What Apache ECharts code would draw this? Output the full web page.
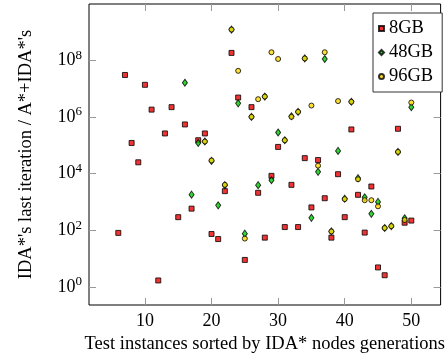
<!DOCTYPE html>
<html>
<head>
<meta charset="utf-8">
<script src="https://cdn.jsdelivr.net/npm/echarts@6/dist/echarts.min.js"></script>
<style>
  html, body { margin: 0; padding: 0; background: #fff; }
  #container { width: 448px; height: 360px; }
</style>
</head>
<body>
<div id="container"></div>
<script>
// instance number -> ratio, one list per memory size
const inst8 = [6, 7, 8, 9, 10, 11, 12, 13, 14, 15, 16, 17, 18, 19, 20, 21, 22, 23, 24, 25, 26, 27, 28,
  29, 30, 31, 32, 33, 34, 35, 36, 37, 38, 39, 40, 41, 42, 43, 44, 45, 46, 48, 49, 50]
const ratio8 = [81, 3e7, 1.2e5, 2.5e4, 1.35e7, 1.8e6, 1.7, 2.6e5, 2.2e6, 290, 5.4e5, 580, 1.5e5, 2.6e5,
  74, 49, 2400, 1.8e8, 4.8e6, 9, 2.2e6, 2100, 55, 8300, 8.7e4, 130, 4000, 130, 3.5e4, 640, 3e4, 1350,
  55, 9500, 290, 3.6e5, 1780, 83, 3500, 4.9, 2.6, 3.8e5, 185, 220]

const inst48 = [16, 17, 18, 19, 20, 21, 22, 23, 24, 25, 26, 27, 28, 29, 30, 31, 32, 33, 34, 35, 36, 37,
  38, 39, 40, 41, 42, 43, 44, 45, 46, 47, 48, 49, 50]
const ratio48 = [1.6e7, 1800, 1.2e5, 1.35e5, 2.8e4, 760, 3900, 1.2e9, 3e6, 76, 1e6, 3900, 5.2e6, 5800,
  2.8e5, 1.5e5, 1.05e6, 1.5e6, 1.15e8, 275, 1.15e4, 1.1e8, 91, 6.3e4, 1300, 3.4e6, 6900, 1450, 380,
  1000, 120, 140, 5.8e4, 265, 2.2e6]

const inst96 = [19, 20, 22, 23, 24, 25, 26, 27, 28, 29, 30, 31, 32, 33, 34, 35, 36, 37, 38, 39, 40, 41,
  42, 43, 44, 45, 46, 47, 48, 49, 50]
const ratio96 = [1.35e5, 2.9e4, 4000, 1.2e9, 4.2e7, 51, 1e6, 4.2e6, 5.2e6, 1.9e8, 1.1e8, 1.5e5, 1e6,
  1.5e6, 1.15e8, 2.5e6, 1.9e4, 1.9e8, 91, 3.6e6, 1260, 3.4e6, 6300, 1150, 1150, 700, 120, 140, 5.8e4,
  230, 3.2e6]

const xTicks = [10, 20, 30, 40, 50]
const yTicks = [1, 1e2, 1e4, 1e6, 1e8]

const serif = 'Liberation Serif'
const zip = (xs, ys) => xs.map((x, i) => [x, ys[i]])

const tick = { inside: true, length: 7, lineStyle: { color: '#999', width: 1 } }

const myChart = echarts.init(document.getElementById('container'))

myChart.setOption({
  animation: false,
  grid: {
    left: 89,
    top: 4,
    width: 363,
    height: 301,
    show: true,
    borderColor: '#000',
    borderWidth: 1,
  },
  legend: {
    orient: 'vertical',
    left: 373,
    top: 13,
    backgroundColor: '#fff',
    borderColor: '#333',
    borderWidth: 1,
    padding: [6, 9, 6, 5],
    itemGap: 5,
    itemWidth: 5,
    itemHeight: 5,
    textStyle: { fontFamily: serif, fontSize: 18.5, color: '#000' },
    data: ['8GB', '48GB', '96GB']
  },
  xAxis: [{
    type: 'value',
    min: 1.6,
    max: 54.4,
    axisLine: { show: false },
    splitLine: { show: false },
    axisTick: Object.assign({ customValues: xTicks }, tick),
    axisLabel: {
      customValues: xTicks,
      margin: 7,
      fontFamily: serif,
      fontSize: 18,
      color: '#000'
    },
    name: 'Test instances sorted by IDA* nodes generations',
    nameLocation: 'middle',
    nameGap: 20,
    nameTextStyle: { fontFamily: serif, fontSize: 18.5, color: '#000' }
  }, {
    type: 'value',
    position: 'top',
    min: 1.6,
    max: 54.4,
    axisLine: { show: false },
    splitLine: { show: false },
    axisTick: Object.assign({ customValues: xTicks }, tick),
    axisLabel: { show: false }
  }],
  yAxis: [{
    type: 'log',
    logBase: 10,
    min: Math.pow(10, -0.635),
    max: Math.pow(10, 9.98),
    axisLine: { show: false },
    splitLine: { show: false },
    axisTick: Object.assign({ customValues: yTicks }, tick),
    axisLabel: {
      customValues: yTicks,
      margin: 7,
      formatter: (val) => '{b|10}{s|' + Math.round(Math.log10(val)) + '}',
      rich: {
        b: { fontFamily: serif, fontSize: 18, color: '#000', lineHeight: 23 },
        s: { fontFamily: serif, fontSize: 13, color: '#000', verticalAlign: 'top', lineHeight: 23 }
      }
    },
    name: 'IDA*\'s last iteration / A*+IDA*\'s',
    nameLocation: 'middle',
    nameGap: 53,
    nameTextStyle: { fontFamily: serif, fontSize: 18.5, color: '#000' }
  }, {
    type: 'log',
    logBase: 10,
    position: 'right',
    min: Math.pow(10, -0.635),
    max: Math.pow(10, 9.98),
    axisLine: { show: false },
    splitLine: { show: false },
    axisTick: Object.assign({ customValues: yTicks }, tick),
    axisLabel: { show: false }
  }],
  series: [
    {
      name: '8GB',
      type: 'scatter',
      symbol: 'rect',
      symbolSize: 5,
      itemStyle: { color: '#ee0000', borderColor: '#000', borderWidth: 1 },
      data: zip(inst8, ratio8)
    },
    {
      name: '48GB',
      type: 'scatter',
      symbol: 'diamond',
      symbolSize: [5, 7],
      itemStyle: { color: '#00cc00', borderColor: '#000', borderWidth: 1 },
      data: zip(inst48, ratio48)
    },
    {
      name: '96GB',
      type: 'scatter',
      symbol: 'circle',
      symbolSize: 5,
      itemStyle: { color: '#ffd700', borderColor: '#000', borderWidth: 1 },
      data: zip(inst96, ratio96)
    }
  ]
})
</script>
</body>
</html>
